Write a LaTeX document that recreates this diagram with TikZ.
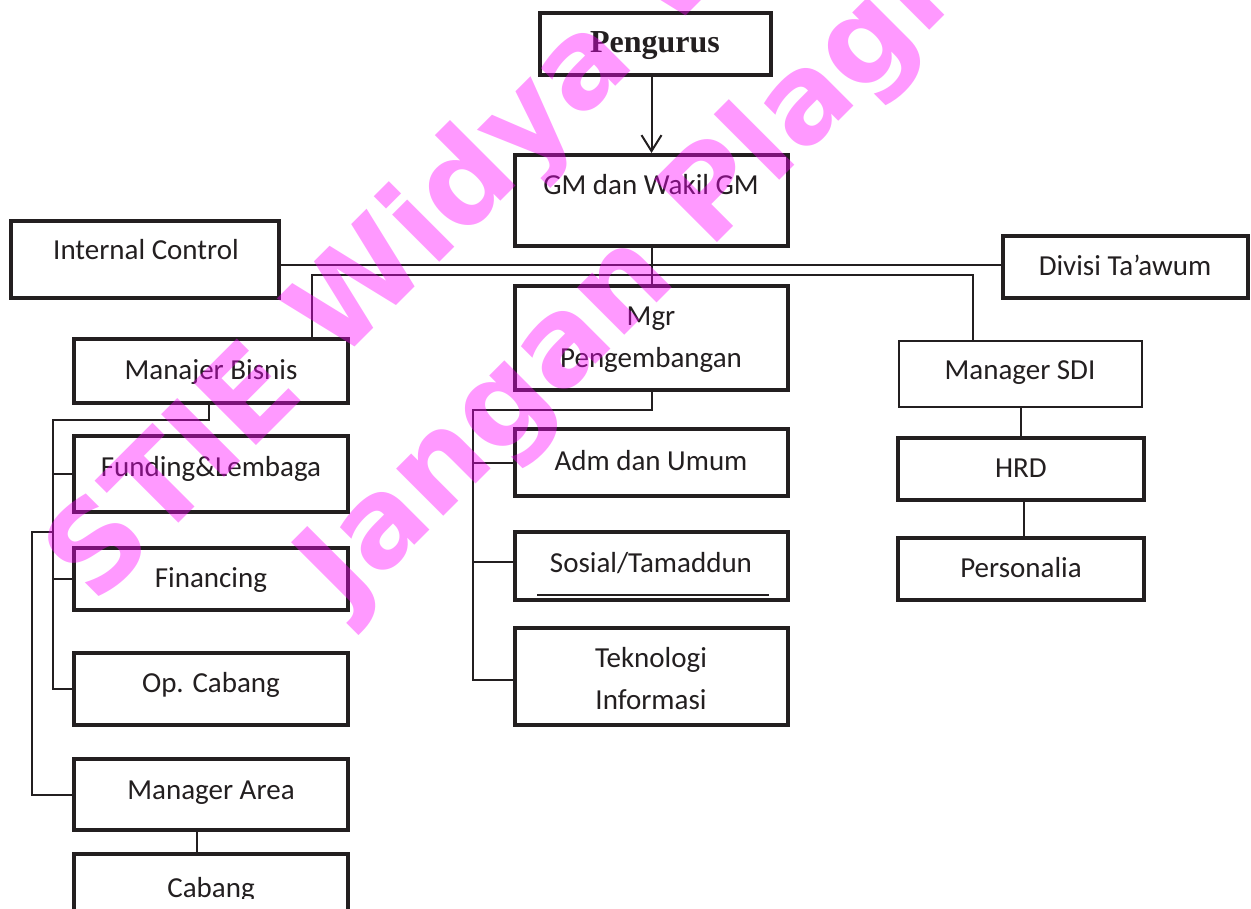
\documentclass[tikz,border=0pt]{standalone}
\usepackage{fontspec}
\setmainfont{Carlito}
\newfontfamily\timesfont{Liberation Serif}
\newfontfamily\wmfont{DejaVu Sans}
\usetikzlibrary{arrows.meta}
\definecolor{ink}{HTML}{231F20}
\definecolor{wmc}{RGB}{255,0,255}
\begin{document}
\begin{tikzpicture}[x=1pt,y=-1pt,
  box/.style={draw=ink,line width=4pt,inner sep=0pt},
  thinbox/.style={draw=ink,line width=2pt,inner sep=0pt},
  lbl/.style={text=ink,font=\fontsize{29}{35}\selectfont,anchor=base,inner sep=0pt},
  conn/.style={draw=ink,line width=2pt},
  wm/.style={text=wmc,text opacity=0.4,font=\wmfont\bfseries\fontsize{122}{122}\selectfont,rotate=45,anchor=base west,inner sep=0pt}]
\useasboundingbox (0,0) rectangle (1251,909);
\clip (0,0) rectangle (1251,909);
\fill[white] (0,0) rectangle (1251,909);

% boxes
\node[box,minimum width=231pt,minimum height=62pt] (peng) at (655.5,44) {};
\node[box,minimum width=273pt,minimum height=91pt] (gm) at (651.5,200.5) {};
\node[box,minimum width=268pt,minimum height=77pt] (ic) at (145,259.5) {};
\node[box,minimum width=245pt,minimum height=62pt] (div) at (1125.5,267) {};
\node[box,minimum width=273pt,minimum height=104pt] (mgr) at (651.5,338) {};
\node[box,minimum width=274pt,minimum height=64pt] (mb) at (211,371) {};
\node[thinbox,minimum width=243pt,minimum height=66pt] (sdi) at (1020.5,374) {};
\node[box,minimum width=274pt,minimum height=76pt] (fund) at (211,474) {};
\node[box,minimum width=273pt,minimum height=67pt] (adm) at (651.5,462.5) {};
\node[box,minimum width=246pt,minimum height=62pt] (hrd) at (1021,469) {};
\node[box,minimum width=273pt,minimum height=68pt] (sos) at (651.5,566) {};
\node[box,minimum width=246pt,minimum height=62pt] (pers) at (1021,569) {};
\node[box,minimum width=274pt,minimum height=62pt] (fin) at (211,579) {};
\node[box,minimum width=273pt,minimum height=97pt] (tek) at (651.5,676.5) {};
\node[box,minimum width=274pt,minimum height=72pt] (op) at (211,689) {};
\node[box,minimum width=274pt,minimum height=71pt] (ma) at (211,794.5) {};
\node[box,minimum width=274pt,minimum height=84pt] (cab) at (211,896) {};

% texts
\node[lbl,font=\timesfont\bfseries\fontsize{32}{38}\selectfont] (tpeng) at (655,53) {Pengurus};
\node[lbl] (tgm) at (651,195) {GM dan Wakil GM};
\node[lbl] (tic) at (146,260) {Internal Control};
\node[lbl] (tdiv) at (1125,276) {Divisi Ta’awum};
\node[lbl] (tmgr1) at (651,326) {Mgr};
\node[lbl] (tmgr2) at (651,368) {Pengembangan};
\node[lbl] (tmb) at (211,380) {Manajer Bisnis};
\node[lbl] (tsdi) at (1020,380) {Manager SDI};
\node[lbl] (tfund) at (211,476) {Funding\&Lembaga};
\node[lbl] (tadm) at (651,470) {Adm dan Umum};
\node[lbl] (thrd) at (1021,477) {HRD};
\node[lbl] (tsos) at (651,572) {Sosial/Tamaddun};
\node[lbl] (tpers) at (1021,577) {Personalia};
\node[lbl] (tfin) at (211,587) {Financing};
\node[lbl] (ttek1) at (651,667) {Teknologi};
\node[lbl] (ttek2) at (651,709) {Informasi};
\node[lbl] (top) at (211,692) {Op. Cabang};
\node[lbl] (tma) at (211,799) {Manager Area};
\begin{scope}
  \clip (74,854) rectangle (348,898);
  \node[lbl] (tcab) at (211,897) {Cabang};
\end{scope}
\draw[draw=ink,line width=1.5pt] (537,595) -- (769,595);

% connectors
\draw[conn,-{Straight Barb[length=16pt,width=20pt]}] (gm.north |- peng.south) -- (gm.north);
\draw[conn] (gm.south) -- (mgr.north);
\draw[conn] ([yshift=2pt]div.west) -- ([yshift=2pt]div.west -| ic.east);
\coordinate (busL) at (312,275);
\coordinate (busR) at (973,275);
\draw[conn] (mb.north -| busL) -- (busL) -- (busR) -- (sdi.north -| busR);

\coordinate (lb) at (53,420);
\draw[conn] ([xshift=-2pt]mb.south) |- (lb) |- (op.west);
\draw[conn] (lb |- fund.west) -- (fund.west);
\draw[conn] (lb |- fin.west) -- (fin.west);
\coordinate (lo) at (32,532);
\draw[conn] (lb |- lo) -- (lo) |- (ma.west);
\draw[conn] ([xshift=-14pt]ma.south) -- ([xshift=-14pt]cab.north);

\coordinate (mbus) at (473,410);
\coordinate (sosb) at ([yshift=4pt]sos.west);
\coordinate (tekb) at ([yshift=-3.5pt]tek.west);
\draw[conn] (mgr.south) |- (mbus) |- (tekb);
\draw[conn] (mbus |- adm.west) -- (adm.west);
\draw[conn] (mbus |- sosb) -- (sosb);

\draw[conn] (sdi.south) -- (sdi.south |- hrd.north);
\draw[conn] ([xshift=3pt]hrd.south) -- ([xshift=3pt]pers.north);

% watermark
\node[wm] (wm1) at (95,607) {STIE Widya Wiwaha};
\node[wm] (wm2) at (346,614) {Jangan Plagiat};
\end{tikzpicture}
\end{document}
